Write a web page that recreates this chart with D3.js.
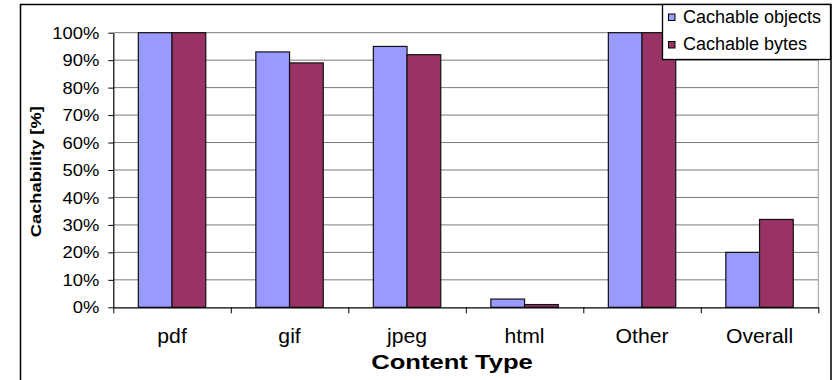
<!DOCTYPE html>
<html>
<head>
<meta charset="utf-8">
<script src="https://cdn.jsdelivr.net/npm/d3@7"></script>
<style>
  html, body { margin: 0; padding: 0; background: #fff; }
  svg { display: block; font-family: "Liberation Sans", Arial, sans-serif; }
</style>
</head>
<body>
<svg id="chart" width="840" height="380"></svg>
<script>
// Cachability per content type
const categories = ["pdf", "gif", "jpeg", "html", "Other", "Overall"];
const seriesNames = ["Cachable objects", "Cachable bytes"];
const cachableObjects = [100, 93, 95, 3, 100, 20];
const cachableBytes = [100, 89, 92, 1, 100, 32];
const yTickValues = [0, 10, 20, 30, 40, 50, 60, 70, 80, 90, 100];
const seriesColors = ["#9999FF", "#993366"];

const svg = d3.select("#chart");

const plot = { left: 113.3, right: 818.3, top: 32.7, bottom: 307.3 };

// outer chart frame
svg.append("rect")
  .attr("x", 20.5).attr("y", 4.5)
  .attr("width", 810.5).attr("height", 390)
  .attr("fill", "#fff").attr("stroke", "#000").attr("stroke-width", 1.5);

const y = d3.scaleLinear().domain([0, 100]).range([plot.bottom, plot.top]);
const x0 = d3.scaleBand().domain(categories).range([plot.left, plot.right]).padding(0);
const x1 = d3.scaleBand().domain(seriesNames).range([0, x0.bandwidth()])
  .paddingInner(0).paddingOuter(0.743);
const boundary = d3.scaleLinear().domain([0, categories.length]).range([plot.left, plot.right]);

// gridlines
svg.append("g").selectAll("line")
  .data(yTickValues.filter(v => v > 0))
  .join("line")
  .attr("x1", plot.left).attr("x2", plot.right)
  .attr("y1", d => y(d)).attr("y2", d => y(d))
  .attr("stroke", "#7a7a7a").attr("stroke-width", 1);

// plot area right edge
svg.append("line")
  .attr("x1", plot.right).attr("x2", plot.right)
  .attr("y1", plot.top).attr("y2", plot.bottom)
  .attr("stroke", "#9a9a9a").attr("stroke-width", 1);

// bars
const rows = categories.map((c, i) => ({
  cat: c,
  values: [cachableObjects[i], cachableBytes[i]]
}));
const groups = svg.append("g").selectAll("g")
  .data(rows).join("g")
  .attr("transform", d => `translate(${x0(d.cat)},0)`);
groups.selectAll("rect")
  .data(d => d.values.map((v, k) => ({ name: seriesNames[k], value: v, k })))
  .join("rect")
  .attr("x", d => x1(d.name))
  .attr("width", x1.bandwidth())
  .attr("y", d => y(d.value))
  .attr("height", d => y(0) - y(d.value))
  .attr("fill", d => seriesColors[d.k])
  .attr("stroke", "#111").attr("stroke-width", 1.2);

// y axis
const yAxis = svg.append("g")
  .attr("transform", `translate(${plot.left},0)`)
  .call(d3.axisLeft(y).tickValues(yTickValues).tickFormat(d => d + "%")
    .tickSize(5).tickSizeOuter(0));
yAxis.select(".domain").attr("stroke", "#000").attr("stroke-width", 1.2);
yAxis.selectAll(".tick line").attr("stroke", "#000");
yAxis.selectAll(".tick text")
  .attr("x", 0).attr("dy", null).attr("y", 5.6)
  .attr("transform", "translate(-14,0) scale(1.15,1)")
  .attr("font-size", 16).attr("font-family", "Liberation Sans, Arial, sans-serif")
  .attr("fill", "#000");

// x axis: boundary ticks
const xAxis = svg.append("g")
  .attr("transform", `translate(0,${plot.bottom})`)
  .call(d3.axisBottom(boundary).ticks(categories.length).tickFormat("")
    .tickSize(6).tickSizeOuter(0));
xAxis.select(".domain").attr("stroke", "#000").attr("stroke-width", 1.2);
xAxis.selectAll(".tick line").attr("stroke", "#000");

// category labels
const xLabels = svg.append("g")
  .attr("transform", `translate(0,${plot.bottom})`)
  .call(d3.axisBottom(x0).tickSize(0));
xLabels.select(".domain").remove();
xLabels.selectAll(".tick text")
  .attr("y", 0).attr("dy", null)
  .attr("transform", "translate(0,36) scale(1.06,1)")
  .attr("font-size", 20).attr("font-family", "Liberation Sans, Arial, sans-serif")
  .attr("fill", "#000");

// axis titles
svg.append("text")
  .attr("transform", "translate(452,369.3) scale(1.25,1)")
  .attr("text-anchor", "middle")
  .attr("font-size", 20.5).attr("font-weight", "bold")
  .text("Content Type");

svg.append("text")
  .attr("transform", "translate(40.5,171.7) rotate(-90) scale(1.18,1)")
  .attr("text-anchor", "middle")
  .attr("font-size", 15.5).attr("font-weight", "bold")
  .text("Cachability [%]");

// legend
const legend = svg.append("g");
legend.append("rect")
  .attr("x", 662.5).attr("y", 4.5).attr("width", 168).attr("height", 55)
  .attr("fill", "#fff").attr("stroke", "#000").attr("stroke-width", 1.3);
const items = legend.selectAll("g.item")
  .data(seriesNames).join("g").attr("class", "item")
  .attr("transform", (d, i) => `translate(0,${i * 27.5})`);
items.append("rect")
  .attr("x", 668.5).attr("y", 14).attr("width", 6.5).attr("height", 6.5)
  .attr("fill", (d, i) => seriesColors[i])
  .attr("stroke", "#000").attr("stroke-width", 1);
items.append("text")
  .attr("x", 683).attr("y", 22.7)
  .attr("font-size", 18)
  .text(d => d);
</script>
</body>
</html>
